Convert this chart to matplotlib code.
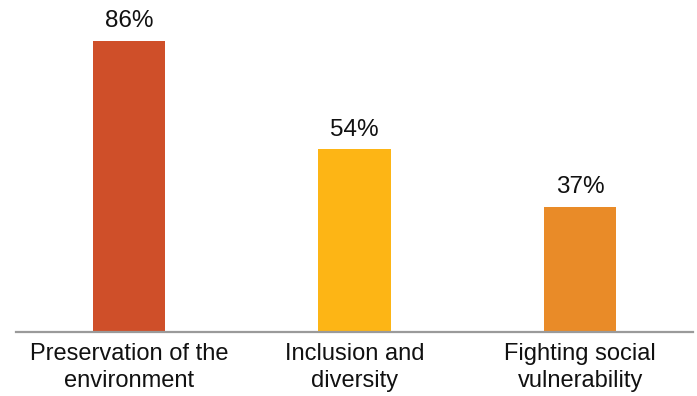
import matplotlib
matplotlib.use("Agg")
import matplotlib.pyplot as plt

categories = ["Preservation of the\nenvironment", "Inclusion and\ndiversity", "Fighting social\nvulnerability"]
values = [86, 54, 37]
colors = ["#CF4F29", "#FDB515", "#E98B28"]

plt.rcParams["font.family"] = ["Liberation Sans", "DejaVu Sans"]

fig = plt.figure(figsize=(6.97, 3.96), dpi=100)
ax = fig.add_axes([16 / 697, (396 - 332) / 396, 677 / 697, 332 / 396])

x = range(len(values))
bars = ax.bar(x, values, width=0.32, color=colors, zorder=2)
for xi, v in zip(x, values):
    ax.annotate(f"{v}%", (xi, v), xytext=(0, 6), textcoords="offset points",
                ha="center", va="bottom", fontsize=17.5, color="#111111")

ax.set_xlim(-0.5, 2.5)
ax.set_ylim(0, 98)
ax.set_xticks(list(x))
ax.set_xticklabels(categories, fontsize=17, color="#111111", linespacing=1.3)
ax.tick_params(axis="x", length=0, pad=8)
ax.set_yticks([])
for s in ["top", "right", "left"]:
    ax.spines[s].set_visible(False)
ax.spines["bottom"].set_color("#9A9A9A")
ax.spines["bottom"].set_linewidth(1.6)

fig.savefig("out.png", dpi=100)
